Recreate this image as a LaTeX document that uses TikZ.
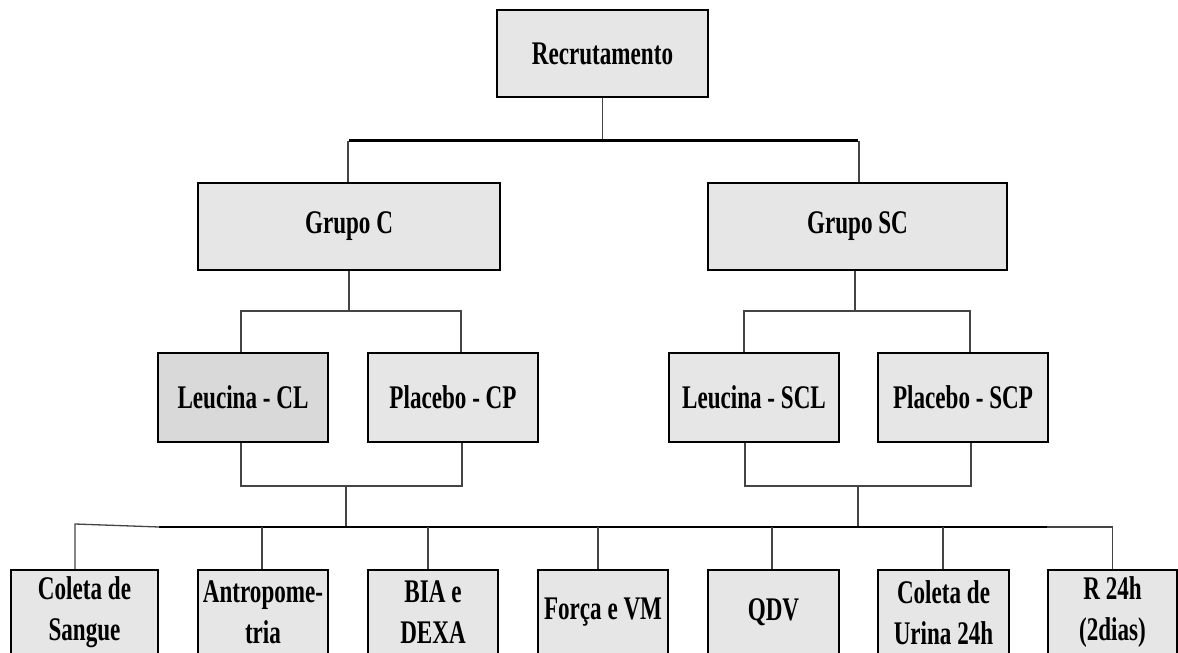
\documentclass[tikz,border=0pt]{standalone}
\usepackage{fontspec}
\setmainfont{Liberation Serif}[FakeStretch=0.70]
\definecolor{boxgray}{HTML}{E6E6E6}
\definecolor{boxdark}{HTML}{D9D9D9}
\definecolor{linegray}{HTML}{444444}
\tikzset{
  box/.style={draw=black, line width=2.5pt, fill=boxgray, inner sep=0pt,
    align=center, font=\bfseries\fontsize{33}{41}\selectfont},
  conn/.style={draw=linegray, line width=1.3pt},
  mainline/.style={draw=black, line width=2.5pt},
}
\begin{document}
\begin{tikzpicture}[x=1pt, y=-1pt]
\useasboundingbox (0,0) rectangle (1178,653);
\clip (0,0) rectangle (1178,653);
% level 0
\node[box, minimum width=211pt, minimum height=87pt] (rec) at (602.5,53.5) {Recrutamento};
% level 1
\node[box, minimum width=302pt, minimum height=87pt] (gc) at (349,226.5) {Grupo C};
\node[box, minimum width=299pt, minimum height=87pt] (gsc) at (857.5,226.5) {Grupo SC};
% level 2
\node[box, fill=boxdark, minimum width=170pt, minimum height=89pt] (lcl) at (243,397.5) {Leucina - CL};
\node[box, minimum width=170pt, minimum height=89pt] (pcp) at (453,397.5) {Placebo - CP};
\node[box, minimum width=170pt, minimum height=89pt] (lscl) at (754,397.5) {Leucina - SCL};
\node[box, minimum width=170pt, minimum height=89pt] (pscp) at (963,397.5) {Placebo - SCP};
% level 3
\node[box, minimum width=147pt, minimum height=85pt] (b1) at (84.5,612.5) {Coleta de\\Sangue};
\node[box, minimum width=130pt, minimum height=85pt] (b2) at (263,612.5) {Antropome-\\tria};
\node[box, minimum width=130pt, minimum height=85pt] (b3) at (433,612.5) {BIA e\\DEXA};
\node[box, minimum width=130pt, minimum height=85pt] (b4) at (603,612.5) {Força e VM};
\node[box, minimum width=131pt, minimum height=85pt] (b5) at (773.5,612.5) {QDV};
\node[box, minimum width=131pt, minimum height=85pt] (b6) at (943.5,612.5) {Coleta de\\Urina 24h};
\node[box, minimum width=129pt, minimum height=85pt] (b7) at (1112.5,612.5) {R 24h\\(2dias)};
% junction levels
\coordinate (h1) at (0,140.5);
\coordinate (h2) at (0,311);
\coordinate (h3) at (0,486);
\coordinate (h4) at (0,527);
\coordinate (h4l) at (0,524);
% connectors level 0 -> 1
\draw[conn] (rec.south) -- (rec.south |- h1);
\draw[mainline] (gc.north |- h1) -- (gsc.north |- h1);
\draw[conn] ([xshift=-1pt]gc.north) -- ([xshift=-1pt]gc.north |- h1);
\draw[conn] ([xshift=1.5pt]gsc.north) -- ([xshift=1.5pt]gsc.north |- h1);
% level 1 -> 2 (left)
\draw[conn] (gc.south) -- (gc.south |- h2);
\draw[conn] ([xshift=-2pt]lcl.north) -- ([xshift=-2pt]lcl.north |- h2) -- ([xshift=8pt]pcp.north |- h2) -- ([xshift=8pt]pcp.north);
% level 1 -> 2 (right)
\draw[conn] ([xshift=-2.5pt]gsc.south) -- ([xshift=-2.5pt]gsc.south |- h2);
\draw[conn] ([xshift=-10pt]lscl.north) -- ([xshift=-10pt]lscl.north |- h2) -- ([xshift=7pt]pscp.north |- h2) -- ([xshift=7pt]pscp.north);
% level 2 -> merge
\draw[conn] ([xshift=-2pt]lcl.south) -- ([xshift=-2pt]lcl.south |- h3) -- ([xshift=9pt]pcp.south |- h3) -- ([xshift=9pt]pcp.south);
\draw[conn] ([xshift=-9pt]lscl.south) -- ([xshift=-9pt]lscl.south |- h3) -- ([xshift=8pt]pscp.south |- h3) -- ([xshift=8pt]pscp.south);
\draw[conn] ([xshift=-107pt]pcp.south |- h3) -- ([xshift=-107pt]pcp.south |- h4);
\draw[conn] ([xshift=104pt]lscl.south |- h3) -- ([xshift=104pt]lscl.south |- h4);
% main bottom line
\draw[mainline] (b1.east |- h4) -- (b7.west |- h4);
\draw[conn] (b1.east |- h4) -- ([xshift=-9.5pt]b1.north |- h4l) -- ([xshift=-9.5pt]b1.north);
\draw[conn] (b7.west |- h4) -- (b7.north |- h4) -- (b7.north);
\draw[conn] ([xshift=-1pt]b2.north) -- ([xshift=-1pt]b2.north |- h4);
\draw[conn] ([xshift=-5pt]b3.north) -- ([xshift=-5pt]b3.north |- h4);
\draw[conn] ([xshift=-5pt]b4.north) -- ([xshift=-5pt]b4.north |- h4);
\draw[conn] ([xshift=-1.5pt]b5.north) -- ([xshift=-1.5pt]b5.north |- h4);
\draw[conn] ([xshift=-0.5pt]b6.north) -- ([xshift=-0.5pt]b6.north |- h4);
\end{tikzpicture}
\end{document}
